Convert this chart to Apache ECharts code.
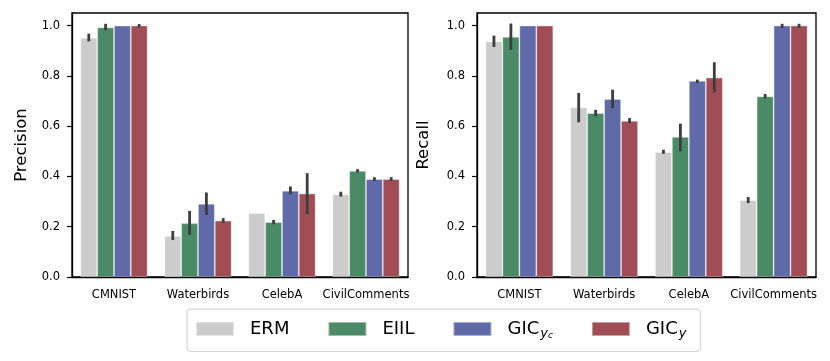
<!DOCTYPE html>
<html>
<head>
<meta charset="utf-8">
<script src="https://cdn.jsdelivr.net/npm/echarts@6/dist/echarts.min.js"></script>
<style>
html, body { margin: 0; padding: 0; background: #fff; }
#chart { width: 830px; height: 361px; }
</style>
</head>
<body>
<div id="chart"></div>
<script>
// data
var datasets = ["CMNIST", "Waterbirds", "CelebA", "CivilComments"];
var methods = ["ERM", "EIIL", "GICyc", "GICy"];
var colors = ["#cccccc", "#4b8a66", "#606aa8", "#a04d56"];
var yTicks = [0, 0.2, 0.4, 0.6, 0.8, 1.0];

// precision (mean, low, high) per method
var precERM = [0.951, 0.163, 0.254, 0.329];
var precERMLo = [0.937, 0.147, 0.254, 0.320];
var precERMHi = [0.968, 0.183, 0.254, 0.339];
var precEIIL = [0.993, 0.214, 0.218, 0.422];
var precEIILLo = [0.981, 0.167, 0.210, 0.416];
var precEIILHi = [1.007, 0.263, 0.227, 0.429];
var precGICyc = [1.0, 0.291, 0.343, 0.389];
var precGICycLo = [1.0, 0.247, 0.329, 0.382];
var precGICycHi = [1.0, 0.336, 0.360, 0.397];
var precGICy = [1.0, 0.224, 0.332, 0.389];
var precGICyLo = [0.993, 0.216, 0.250, 0.382];
var precGICyHi = [1.006, 0.234, 0.413, 0.397];

// recall
var recERM = [0.937, 0.675, 0.497, 0.306];
var recERMLo = [0.915, 0.615, 0.490, 0.294];
var recERMHi = [0.960, 0.732, 0.506, 0.318];
var recEIIL = [0.955, 0.652, 0.557, 0.718];
var recEIILLo = [0.904, 0.639, 0.499, 0.710];
var recEIILHi = [1.008, 0.665, 0.610, 0.728];
var recGICyc = [1.0, 0.708, 0.780, 1.0];
var recGICycLo = [1.0, 0.671, 0.772, 0.991];
var recGICycHi = [1.0, 0.745, 0.785, 1.007];
var recGICy = [1.0, 0.621, 0.793, 1.0];
var recGICyLo = [1.0, 0.612, 0.734, 0.991];
var recGICyHi = [1.0, 0.632, 0.854, 1.007];

var precMeans = [precERM, precEIIL, precGICyc, precGICy];
var precLows = [precERMLo, precEIILLo, precGICycLo, precGICyLo];
var precHighs = [precERMHi, precEIILHi, precGICycHi, precGICyHi];
var recMeans = [recERM, recEIIL, recGICyc, recGICy];
var recLows = [recERMLo, recEIILLo, recGICycLo, recGICyLo];
var recHighs = [recERMHi, recEIILHi, recGICycHi, recGICyHi];

var FONT = "DejaVu Sans";

function makeXAxis(gi) {
	return {
		type: "category",
		gridIndex: gi,
		data: datasets,
		axisLine: { lineStyle: { color: "#000", width: 1.3 } },
		axisTick: { alignWithLabel: true, length: 5, lineStyle: { color: "#000", width: 1.2 } },
		axisLabel: { color: "#000", fontFamily: FONT, fontSize: 11.5, margin: 12, interval: 0 }
	};
}

function makeYAxis(gi, name, gap) {
	return {
		type: "value",
		gridIndex: gi,
		min: 0,
		max: 1.05,
		interval: 0.2,
		name: name,
		nameLocation: "middle",
		nameGap: gap,
		nameTextStyle: { color: "#000", fontFamily: FONT, fontSize: 16.5 },
		splitLine: { show: false },
		axisLine: { show: true, lineStyle: { color: "#000", width: 1.3 } },
		axisTick: { show: true, length: 5, customValues: yTicks, lineStyle: { color: "#000", width: 1.2 } },
		axisLabel: {
			color: "#000", fontFamily: FONT, fontSize: 11.5, margin: 12,
			customValues: yTicks,
			formatter: function(v) { return v.toFixed(1); }
		}
	};
}

function errRender(k) {
	return function(params, api) {
		var band = api.size([1, 0])[0];
		var bw = band * 0.8 / methods.length;
		var off = (k - (methods.length - 1) / 2) * bw;
		var lo = api.coord([api.value(0), api.value(1)]);
		var hi = api.coord([api.value(0), api.value(2)]);
		return {
			type: "line",
			shape: { x1: lo[0] + off, y1: lo[1], x2: hi[0] + off, y2: hi[1] },
			style: { stroke: "#3d3d3d", lineWidth: 2.8 }
		};
	};
}

var series = [];
function addPanel(gi, means, lows, highs) {
	methods.forEach(function(m, k) {
		series.push({
			name: m,
			type: "bar",
			xAxisIndex: gi,
			yAxisIndex: gi,
			data: means[k],
			barGap: "0%",
			barCategoryGap: "20%",
			itemStyle: { color: colors[k], borderColor: "rgba(255,255,255,0.45)", borderWidth: 0.8 },
			silent: true
		});
	});
	methods.forEach(function(m, k) {
		series.push({
			name: m + "_err",
			type: "custom",
			xAxisIndex: gi,
			yAxisIndex: gi,
			z: 5,
			silent: true,
			renderItem: errRender(k),
			data: datasets.map(function(d, i) { return [i, lows[k][i], highs[k][i]]; })
		});
	});
}
addPanel(0, precMeans, precLows, precHighs);
addPanel(1, recMeans, recLows, recHighs);

var legendLabels = {
	ERM: "ERM",
	EIIL: "EIIL",
	GICyc: "GIC{sub|y}{sub2|c}",
	GICy: "GIC{sub|y}"
};

var chart = echarts.init(document.getElementById("chart"));
chart.setOption({
	animation: false,
	backgroundColor: "#fff",
	grid: [
		{ left: 72, top: 13, width: 336, height: 264, show: true, borderColor: "#000", borderWidth: 1.3 },
		{ left: 477, top: 13, width: 339, height: 264, show: true, borderColor: "#000", borderWidth: 1.3 }
	],
	xAxis: [makeXAxis(0), makeXAxis(1)],
	yAxis: [makeYAxis(0, "Precision", 42), makeYAxis(1, "Recall", 45)],
	legend: {
		data: methods,
		left: 187,
		top: 309,
		orient: "horizontal",
		itemWidth: 38,
		itemHeight: 14,
		itemGap: 38,
		padding: [11, 14, 11, 8],
		borderColor: "#d4d4d4",
		borderWidth: 1.2,
		borderRadius: 4,
		icon: "rect",
		selectedMode: false,
		formatter: function(n) { return legendLabels[n]; },
		textStyle: {
			color: "#000",
			fontFamily: FONT,
			fontSize: 18,
			padding: [0, 0, 0, 11],
			rich: {
				sub: { fontFamily: FONT, fontSize: 13, fontStyle: "italic", color: "#000", padding: [9, 0, 0, 1] },
				sub2: { fontFamily: FONT, fontSize: 9, fontStyle: "italic", color: "#000", padding: [14, 0, 0, 0] }
			}
		}
	},
	series: series
});
</script>
</body>
</html>
